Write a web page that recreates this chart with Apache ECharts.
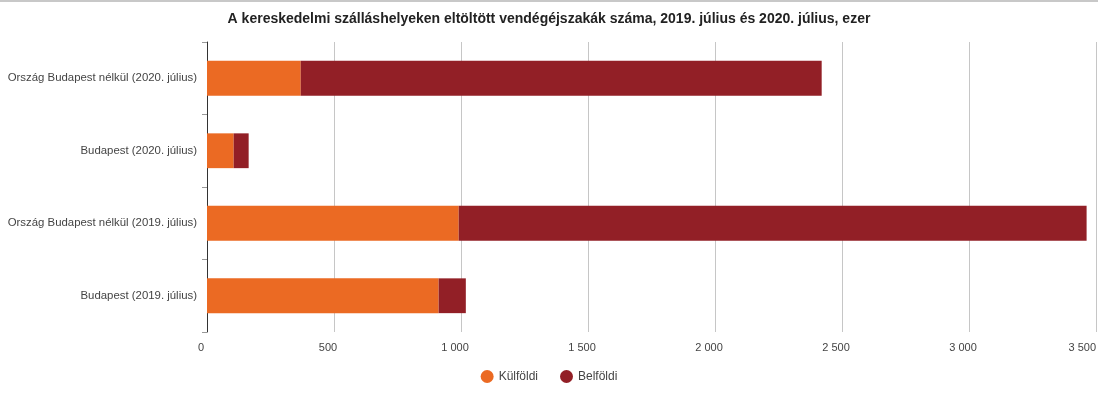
<!DOCTYPE html>
<html>
<head>
<meta charset="utf-8">
<script src="https://cdn.jsdelivr.net/npm/echarts@6/dist/echarts.min.js"></script>
<style>
  html, body { margin: 0; padding: 0; background: #fff; }
  #main { width: 1098px; height: 398px; box-sizing: border-box; border-top: 2px solid #c8c8c8; }
</style>
</head>
<body>
<div id="main"></div>
<script>
// categories from bottom to top (ECharts draws the first category at the bottom)
var categories = [
  'Budapest (2019. július)',
  'Ország Budapest nélkül (2019. július)',
  'Budapest (2020. július)',
  'Ország Budapest nélkül (2020. július)'
];
var kulfoldi = [912, 991, 105, 369];
var belfoldi = [107, 2472, 59, 2051];
var xTicks = [0, 500, 1000, 1500, 2000, 2500, 3000, 3500];

var chart = echarts.init(document.getElementById('main'));

function fmt(v) {
  return String(v).replace(/\B(?=(\d{3})+(?!\d))/g, ' ');
}

var xMax = xTicks[xTicks.length - 1];

var option = {
  animation: false,
  textStyle: { fontFamily: 'Arial, "Liberation Sans", sans-serif' },
  title: {
    text: 'A kereskedelmi szálláshelyeken eltöltött vendégéjszakák száma, 2019. július és 2020. július, ezer',
    left: 'center',
    top: 5,
    textStyle: { fontSize: 14, fontWeight: 'bold', color: '#222' }
  },
  legend: {
    bottom: 10,
    left: 'center',
    icon: 'circle',
    itemWidth: 13,
    itemHeight: 13,
    itemGap: 22,
    textStyle: { fontSize: 12, color: '#444' },
    data: ['Külföldi', 'Belföldi']
  },
  grid: { left: 207, right: 2, top: 40, bottom: 66, containLabel: false, outerBoundsMode: 'none' },
  xAxis: {
    type: 'value',
    min: xTicks[0],
    max: xMax,
    interval: 500,
    axisLine: { show: false },
    axisTick: { show: false },
    splitLine: { lineStyle: { color: '#c6c6c6', width: 1 } },
    axisLabel: {
      fontSize: 11,
      color: '#444',
      margin: 10,
      alignMaxLabel: 'right',
      formatter: function (v) {
        return v === xMax ? '{e|' + fmt(v) + '}' : '{n|' + fmt(v) + '}';
      },
      rich: {
        n: { fontSize: 11, color: '#444', padding: [0, 12, 0, 0] },
        e: { fontSize: 11, color: '#444', padding: [0, 0, 0, 0] }
      }
    }
  },
  yAxis: {
    type: 'category',
    data: categories,
    axisLine: { show: true, lineStyle: { color: '#333', width: 1 } },
    axisTick: { show: true, length: 5, lineStyle: { color: '#999' } },
    axisLabel: { fontSize: 11.4, color: '#444', margin: 10 }
  },
  series: [
    {
      name: 'Külföldi',
      type: 'bar',
      stack: 'total',
      barWidth: '48%',
      itemStyle: { color: '#EB6A23' },
      data: kulfoldi
    },
    {
      name: 'Belföldi',
      type: 'bar',
      stack: 'total',
      barWidth: '48%',
      itemStyle: { color: '#921F26' },
      data: belfoldi
    }
  ]
};

chart.setOption(option);
</script>
</body>
</html>
